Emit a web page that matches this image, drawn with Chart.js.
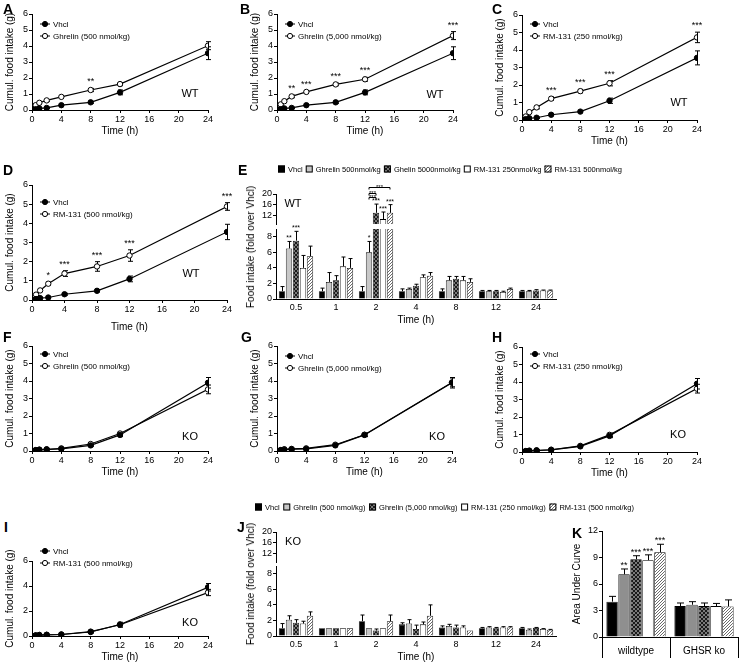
<!DOCTYPE html>
<html>
<head>
<meta charset="utf-8">
<title>Food intake after ghrelin / RM-131</title>
<script src="https://cdn.jsdelivr.net/npm/chart.js"></script>
<style>
  html, body { margin: 0; padding: 0; background: #fff; }
  #fig { position: relative; width: 747px; height: 665px; overflow: hidden; color: #000;
         font-family: 'Liberation Sans', Arial, sans-serif; }
  #fig canvas { position: absolute; }
  .letter { position: absolute; font-weight: bold; font-size: 14px; line-height: 14px; }
  .ytitle { position: absolute; font-size: 10px; line-height: 12px; white-space: nowrap;
            transform: translate(-50%, -50%) rotate(-90deg); }
</style>
</head>
<body>
<div id="fig"></div>
<script>
// ----- Cumulative food intake (g), line panels
const hours = [0, 0.5, 1, 2, 4, 8, 12, 24];
const hourTicks = [0, 4, 8, 12, 16, 20, 24];
const gramTicks = [0, 1, 2, 3, 4, 5, 6];

// wildtype
const wtVhcl       = [0, 0.05, 0.10, 0.13, 0.30, 0.48, 1.10, 3.55];
const wtVhclErr    = [0, 0.02, 0.03, 0.04, 0.05, 0.06, 0.15, 0.40];
const wtGhr500     = [0, 0.30, 0.45, 0.60, 0.82, 1.25, 1.62, 4.02];
const wtGhr500Err  = [0, 0.05, 0.05, 0.06, 0.06, 0.10, 0.10, 0.25];
const wtGhr500Sig  = ['', '', '', '', '', '**', '', ''];
const wtGhr5000    = [0, 0.35, 0.55, 0.85, 1.13, 1.60, 1.92, 4.65];
const wtGhr5000Err = [0, 0.05, 0.06, 0.08, 0.08, 0.08, 0.12, 0.25];
const wtGhr5000Sig = ['', '', '', '**', '***', '***', '***', '***'];
const wtRm250      = [0, 0.20, 0.45, 0.72, 1.22, 1.65, 2.10, 4.72];
const wtRm250Err   = [0, 0.05, 0.06, 0.08, 0.10, 0.10, 0.15, 0.30];
const wtRm250Sig   = ['', '', '', '', '***', '***', '***', '***'];
const wtRm500      = [0, 0.28, 0.50, 0.85, 1.38, 1.75, 2.32, 4.88];
const wtRm500Err   = [0, 0.05, 0.06, 0.08, 0.15, 0.25, 0.30, 0.20];
const wtRm500Sig   = ['', '', '', '*', '***', '***', '***', '***'];

// GHSR ko
const koVhcl       = [0, 0.05, 0.08, 0.10, 0.12, 0.32, 0.92, 3.90];
const koVhclErr    = [0, 0.02, 0.02, 0.03, 0.03, 0.05, 0.10, 0.30];
const koGhr500     = [0, 0.05, 0.07, 0.08, 0.15, 0.40, 1.00, 3.52];
const koGhr500Err  = [0, 0.02, 0.02, 0.03, 0.04, 0.06, 0.08, 0.25];
const koGhr5000    = [0, 0.05, 0.10, 0.12, 0.15, 0.36, 0.93, 3.92];
const koGhr5000Err = [0, 0.02, 0.03, 0.03, 0.04, 0.06, 0.08, 0.25];
const koRm250      = [0, 0.05, 0.06, 0.07, 0.13, 0.35, 0.98, 3.62];
const koRm250Err   = [0, 0.02, 0.02, 0.03, 0.04, 0.06, 0.10, 0.25];
const koRm500      = [0, 0.05, 0.08, 0.09, 0.12, 0.35, 0.90, 3.48];
const koRm500Err   = [0, 0.02, 0.02, 0.03, 0.04, 0.10, 0.20, 0.25];

// ----- Food intake, fold over Vhcl (bar panels E and J)
const foldTimes = ['0.5', '1', '2', '4', '8', '12', '24'];
const foldLowTicks = [0, 2, 4, 6, 8];
const foldHighTicks = [12, 16, 20];

const eVhcl       = [1.0, 1.0, 1.0, 1.0, 1.0, 1.0, 1.0];
const eVhclErr    = [0.6, 0.4, 0.6, 0.3, 0.3, 0.1, 0.1];
const eGhr500     = [6.5, 2.2, 6.0, 1.3, 2.4, 1.0, 1.0];
const eGhr500Err  = [0.9, 1.2, 1.4, 0.1, 0.5, 0.1, 0.1];
const eGhr500Sig  = ['**', '', '*', '', '', '', ''];
const eGhr5000    = [7.5, 2.4, 13.1, 1.7, 2.6, 1.0, 1.1];
const eGhr5000Err = [1.2, 0.6, 3.2, 0.2, 0.3, 0.1, 0.1];
const eGhr5000Sig = ['***', '', '***', '', '', '', ''];
const eRm250      = [4.0, 4.2, 10.8, 2.8, 2.4, 0.9, 1.1];
const eRm250Err   = [1.6, 1.2, 2.6, 0.3, 0.5, 0.1, 0.05];
const eRm250Sig   = ['', '', '***', '', '', '', ''];
const eRm500      = [5.5, 4.0, 13.1, 3.0, 2.2, 1.3, 1.1];
const eRm500Err   = [1.3, 1.2, 3.0, 0.4, 0.4, 0.1, 0.05];
const eRm500Sig   = ['', '', '***', '', '', '', ''];

const jVhcl       = [1.0, 1.0, 1.9, 1.5, 1.1, 1.0, 1.0];
const jVhclErr    = [0.6, 0, 0.8, 0.2, 0.2, 0.1, 0.1];
const jGhr500     = [2.1, 1.0, 1.0, 1.6, 1.3, 1.1, 0.8];
const jGhr500Err  = [0.5, 0, 0, 0.5, 0.2, 0.1, 0.1];
const jGhr5000    = [1.7, 1.0, 0.7, 0.9, 1.1, 1.0, 1.05];
const jGhr5000Err = [0.4, 0, 0.2, 0.5, 0.3, 0.1, 0.05];
const jRm250      = [1.6, 1.0, 1.0, 1.5, 1.1, 1.1, 0.9];
const jRm250Err   = [0.3, 0, 0, 0.3, 0.2, 0.1, 0.05];
const jRm500      = [2.6, 1.0, 1.9, 2.6, 0.7, 1.1, 0.8];
const jRm500Err   = [0.5, 0, 0.8, 1.4, 0, 0.1, 0.05];

// ----- Area under curve (panel K)
const aucGroups = ['wildtype', 'GHSR ko'];
const aucTicks = [0, 3, 6, 9, 12];
const aucVhcl       = [4.0, 3.5];
const aucVhclErr    = [0.6, 0.35];
const aucGhr500     = [7.1, 3.65];
const aucGhr500Err  = [0.6, 0.35];
const aucGhr500Sig  = ['**', ''];
const aucGhr5000    = [8.8, 3.5];
const aucGhr5000Err = [0.4, 0.35];
const aucGhr5000Sig = ['***', ''];
const aucRm250      = [8.7, 3.5];
const aucRm250Err   = [0.6, 0.3];
const aucRm250Sig   = ['***', ''];
const aucRm500      = [9.6, 3.45];
const aucRm500Err   = [0.9, 0.75];
const aucRm500Sig   = ['***', ''];

// -----Setup
const FONT = "'Liberation Sans', Arial, sans-serif";
Chart.defaults.font.family = FONT;
Chart.defaults.color = '#000';
Chart.defaults.animation = false;

const fig = document.getElementById('fig');

function canvasAt(left, top, w, h) {
  const c = document.createElement('canvas');
  c.width = w; c.height = h;
  c.style.left = left + 'px'; c.style.top = top + 'px';
  c.style.width = w + 'px'; c.style.height = h + 'px';
  fig.appendChild(c);
  return c;
}

function htmlText(cls, text, x, y, size) {
  const d = document.createElement('div');
  d.className = cls;
  d.textContent = text;
  d.style.left = x + 'px'; d.style.top = y + 'px';
  if (size) d.style.fontSize = size + 'px';
  fig.appendChild(d);
}

// hatch fills
const patCtx = document.createElement('canvas').getContext('2d');
function crossHatch(bg, fg, n) {
  const c = document.createElement('canvas'); c.width = c.height = n;
  const g = c.getContext('2d');
  g.fillStyle = bg; g.fillRect(0, 0, n, n);
  g.strokeStyle = fg; g.lineWidth = 1;
  g.beginPath(); g.moveTo(0, 0); g.lineTo(n, n); g.moveTo(n, 0); g.lineTo(0, n); g.stroke();
  return patCtx.createPattern(c, 'repeat');
}
function diagHatch(bg, fg, n) {
  const c = document.createElement('canvas'); c.width = c.height = n;
  const g = c.getContext('2d');
  g.fillStyle = bg; g.fillRect(0, 0, n, n);
  g.strokeStyle = fg; g.lineWidth = 1;
  g.beginPath();
  g.moveTo(0, n); g.lineTo(n, 0);
  g.moveTo(-1, 1); g.lineTo(1, -1);
  g.moveTo(n - 1, n + 1); g.lineTo(n + 1, n - 1);
  g.stroke();
  return patCtx.createPattern(c, 'repeat');
}
const darkHatch = crossHatch('#7a7a7a', '#1a1a1a', 4);
const lightHatch = diagHatch('#ffffff', '#6a6a6a', 3);

function val(d) { return (d && typeof d === 'object') ? d.y : d; }
function tickList(arr) { return s => { s.ticks = arr.map(v => ({ value: v })); }; }

// -----Plugin: error bars, stars, legends, tags, brackets
const marks = {
  id: 'marks',
  beforeDatasetsDraw(chart) {
    const ctx = chart.ctx, a = chart.chartArea;
    ctx.save();
    ctx.beginPath();
    ctx.rect(a.left - 10, a.top - 1, a.right - a.left + 20, a.bottom - a.top + 1);
    ctx.clip();
    ctx.strokeStyle = '#000'; ctx.lineWidth = 1;
    chart.data.datasets.forEach((ds, di) => {
      if (!ds.errors) return;
      const meta = chart.getDatasetMeta(di), ys = chart.scales[meta.yAxisID];
      meta.data.forEach((el, i) => {
        const e = ds.errors[i]; if (!e) return;
        const v = val(ds.data[i]);
        const x = Math.round(el.x) + 0.5;
        const yTop = ys.getPixelForValue(v + e);
        const yBot = ys.getPixelForValue(ds.errBoth ? v - e : v);
        const cap = ds.cap || 2.5;
        ctx.beginPath();
        ctx.moveTo(x, yBot); ctx.lineTo(x, yTop);
        ctx.moveTo(x - cap, yTop); ctx.lineTo(x + cap, yTop);
        if (ds.errBoth) { ctx.moveTo(x - cap, yBot); ctx.lineTo(x + cap, yBot); }
        ctx.stroke();
      });
    });
    ctx.restore();
  },
  afterDatasetsDraw(chart, args, o) {
    const ctx = chart.ctx, a = chart.chartArea;
    ctx.save();
    ctx.fillStyle = '#000'; ctx.strokeStyle = '#000'; ctx.lineWidth = 1;

    // stars
    ctx.font = (o.starSize || 9) + 'px ' + FONT;
    ctx.textAlign = 'center'; ctx.textBaseline = 'alphabetic';
    chart.data.datasets.forEach((ds, di) => {
      if (!ds.stars) return;
      const meta = chart.getDatasetMeta(di), ys = chart.scales[meta.yAxisID];
      meta.data.forEach((el, i) => {
        const s = ds.stars[i]; if (!s) return;
        const top = val(ds.data[i]) + (ds.errors ? ds.errors[i] : 0);
        if (top < ys.min || top > ys.max) return;
        ctx.fillText(s, el.x, ys.getPixelForValue(top) - (o.starGap == null ? 3 : o.starGap));
      });
    });

    // brackets between bars
    (o.brackets || []).forEach(b => {
      const x1 = chart.getDatasetMeta(b.from).data[b.cat].x;
      const x2 = chart.getDatasetMeta(b.to).data[b.cat].x;
      const y = Math.round(a.top + b.dy) + 0.5;
      ctx.beginPath();
      ctx.moveTo(x1, y + 2); ctx.lineTo(x1, y); ctx.lineTo(x2, y); ctx.lineTo(x2, y + 2);
      ctx.stroke();
      ctx.font = '6px ' + FONT;
      ctx.fillText(b.text, (x1 + x2) / 2, y + 1);
    });

    // legend for the line panels
    if (o.lineLegend) {
      const L = o.lineLegend;
      ctx.font = '8px ' + FONT;
      ctx.textAlign = 'left'; ctx.textBaseline = 'middle';
      chart.data.datasets.forEach((ds, di) => {
        const x = a.left + L.dx, y = a.top + L.dy + di * 12;
        ctx.beginPath(); ctx.moveTo(x - 5, y); ctx.lineTo(x + 5, y); ctx.stroke();
        ctx.beginPath(); ctx.arc(x, y, 2.6, 0, Math.PI * 2);
        ctx.fillStyle = ds.pointBackgroundColor; ctx.fill(); ctx.stroke();
        ctx.fillStyle = '#000';
        ctx.fillText(ds.label, x + 8, y + 0.5);
      });
    }

    // legend row for the bar panels, spread from x0 to x1
    if (o.barLegend) {
      const L = o.barLegend, box = 7, gapIn = 3;
      ctx.font = L.size + 'px ' + FONT;
      ctx.textAlign = 'left'; ctx.textBaseline = 'middle';
      const dss = chart.data.datasets;
      const widths = dss.map(ds => ctx.measureText(ds.label).width);
      const used = widths.reduce((s, w) => s + w + box + gapIn, 0);
      const gap = (L.x1 - L.x0 - used) / (dss.length - 1);
      let x = L.x0;
      dss.forEach((ds, di) => {
        const y = L.y;
        ctx.fillStyle = ds.backgroundColor;
        ctx.fillRect(x, y - 3.5, box, box);
        ctx.strokeRect(x + 0.5, y - 3, box - 1, box - 1);
        ctx.fillStyle = '#000';
        ctx.fillText(ds.label, x + box + gapIn, y + 0.5);
        x += box + gapIn + widths[di] + gap;
      });
    }

    // WT / KO tag
    if (o.tag) {
      const t = o.tag;
      ctx.font = '11px ' + FONT;
      ctx.textAlign = 'center'; ctx.textBaseline = 'middle';
      const x = t.from === 'lt' ? a.left + t.dx : a.right + t.dx;
      const y = t.from === 'lt' ? a.top + t.dy : a.bottom + t.dy;
      ctx.fillText(t.text, x, y);
    }
    ctx.restore();
  }
};

const gridTicks = { display: true, drawOnChartArea: false, drawTicks: true, tickLength: 3, color: '#000', lineWidth: 1 };
const axisLine = { display: true, color: '#000', width: 1 };
const tickFont = { size: 9 };
const titleFont = { size: 10, lineHeight: 1.2 };

// -----Line panels
function cumulChart(p) {
  const [L, T, R, B] = p.box;
  const padT = 18, padR = 12, yW = 34, xH = p.xH || 30;
  const cv = canvasAt(L - yW, T - padT, R - L + yW + padR, B - T + padT + xH);
  const pts = arr => hours.map((h, i) => ({ x: h, y: arr[i] }));
  const line = { borderColor: '#000', borderWidth: 1.2, pointRadius: 2.7, pointBorderColor: '#000',
                 pointBorderWidth: 1, errBoth: true, cap: 2.5 };
  new Chart(cv, {
    type: 'line',
    data: { datasets: [
      Object.assign({ label: 'Vhcl', data: pts(p.vhcl), errors: p.vhclErr, pointBackgroundColor: '#000' }, line),
      Object.assign({ label: p.name, data: pts(p.drug), errors: p.drugErr, stars: p.sig, pointBackgroundColor: '#fff' }, line)
    ]},
    options: {
      responsive: false,
      layout: { padding: { top: padT, right: padR, left: 0, bottom: 0 } },
      scales: {
        x: { type: 'linear', min: 0, max: 24, afterBuildTicks: tickList(hourTicks),
             afterFit: s => { s.height = xH; },
             grid: gridTicks, border: axisLine,
             ticks: { font: tickFont, padding: 1, maxRotation: 0 },
             title: { display: true, text: 'Time (h)', font: titleFont, padding: { top: 0, bottom: 3 } } },
        y: { type: 'linear', min: 0, max: 6, afterBuildTicks: tickList(gramTicks),
             afterFit: s => { s.width = yW; },
             grid: gridTicks, border: axisLine,
             ticks: { font: tickFont, padding: 1 },
             title: { display: true, text: 'Cumul. food intake (g)', font: titleFont, padding: { top: 6, bottom: 0 } } }
      },
      plugins: {
        legend: { display: false }, tooltip: { enabled: false },
        marks: { lineLegend: { dx: 13, dy: p.legY }, tag: { text: p.tag, dx: p.tagAt[0], dy: p.tagAt[1] }, starSize: 9, starGap: 4 }
      }
    },
    plugins: [marks]
  });
}

cumulChart({ box: [32, 14, 208, 110], vhcl: wtVhcl, vhclErr: wtVhclErr, drug: wtGhr500, drugErr: wtGhr500Err,
             sig: wtGhr500Sig, name: 'Ghrelin (500 nmol/kg)', tag: 'WT', tagAt: [-18, -16], legY: 10 });
cumulChart({ box: [277, 14, 453, 110], vhcl: wtVhcl, vhclErr: wtVhclErr, drug: wtGhr5000, drugErr: wtGhr5000Err,
             sig: wtGhr5000Sig, name: 'Ghrelin (5,000 nmol/kg)', tag: 'WT', tagAt: [-18, -15], legY: 10 });
cumulChart({ box: [522, 15, 697, 120], vhcl: wtVhcl, vhclErr: wtVhclErr, drug: wtRm250, drugErr: wtRm250Err,
             sig: wtRm250Sig, name: 'RM-131 (250 nmol/kg)', tag: 'WT', tagAt: [-18, -17], legY: 9 });
cumulChart({ box: [32, 185, 227, 300], vhcl: wtVhcl, vhclErr: wtVhclErr, drug: wtRm500, drugErr: wtRm500Err,
             sig: wtRm500Sig, name: 'RM-131 (500 nmol/kg)', tag: 'WT', tagAt: [-36, -26], legY: 17, xH: 36 });
cumulChart({ box: [32, 346, 208, 451], vhcl: koVhcl, vhclErr: koVhclErr, drug: koGhr500, drugErr: koGhr500Err,
             name: 'Ghrelin (500 nmol/kg)', tag: 'KO', tagAt: [-18, -14], legY: 8 });
cumulChart({ box: [277, 346, 452, 451], vhcl: koVhcl, vhclErr: koVhclErr, drug: koGhr5000, drugErr: koGhr5000Err,
             name: 'Ghrelin (5,000 nmol/kg)', tag: 'KO', tagAt: [-15, -14], legY: 10 });
cumulChart({ box: [522, 347, 697, 452], vhcl: koVhcl, vhclErr: koVhclErr, drug: koRm250, drugErr: koRm250Err,
             name: 'RM-131 (250 nmol/kg)', tag: 'KO', tagAt: [-19, -17], legY: 7 });
cumulChart({ box: [32, 561, 208, 636], vhcl: koVhcl, vhclErr: koVhclErr, drug: koRm500, drugErr: koRm500Err,
             name: 'RM-131 (500 nmol/kg)', tag: 'KO', tagAt: [-18, -13], legY: -10 });

// -----Fold-over-Vhcl bar panels (broken y axis: two charts stacked)
const barFills = ['#000', '#c8c8c8', darkHatch, '#fff', lightHatch];

function foldSets(labels, vals, errs, sigs) {
  return vals.map((v, k) => ({
    label: labels[k], data: v, errors: errs[k], stars: sigs[k],
    backgroundColor: barFills[k], borderColor: '#000', borderWidth: 0.8,
    categoryPercentage: 0.875, barPercentage: 0.9, clip: 0, cap: 2
  }));
}

function foldPanel(p) {
  const left = 240, L = 276, R = 556, yW = L - left;
  const padR = p.right - R;
  // upper segment (9 - 20)
  const [uT, uB] = p.upper;
  const topC = p.legendY - 10;
  const cu = canvasAt(left, topC, p.right - left, uB - topC + 10);
  new Chart(cu, {
    type: 'bar',
    data: { labels: foldTimes, datasets: foldSets(p.labels, p.vals, p.errs, p.sigs) },
    options: {
      responsive: false,
      layout: { padding: { top: uT - topC, right: padR, left: 0, bottom: 10 } },
      scales: {
        x: { display: false },
        y: { min: 9, max: 20, afterBuildTicks: tickList(foldHighTicks), afterFit: s => { s.width = yW; },
             grid: gridTicks, border: axisLine, ticks: { font: tickFont, padding: 1 } }
      },
      plugins: {
        legend: { display: false }, tooltip: { enabled: false },
        marks: { barLegend: { x0: p.legendX[0] - left, x1: p.legendX[1] - left, y: 10, size: 7.5 },
                 tag: { text: p.tag, dx: 17, dy: 10, from: 'lt' },
                 brackets: p.brackets, starSize: 7, starGap: 1 }
      }
    },
    plugins: [marks]
  });
  // lower segment (0 - 9)
  const [lT, lB] = p.lower;
  const cl = canvasAt(left, lT - 10, p.right - left, lB - lT + 10 + 30);
  new Chart(cl, {
    type: 'bar',
    data: { labels: foldTimes, datasets: foldSets(p.labels, p.vals, p.errs, p.sigs) },
    options: {
      responsive: false,
      layout: { padding: { top: 10, right: padR, left: 0, bottom: 0 } },
      scales: {
        x: { afterFit: s => { s.height = 30; }, grid: { display: false, drawTicks: false }, border: axisLine,
             ticks: { font: tickFont, padding: 3, maxRotation: 0 },
             title: { display: true, text: 'Time (h)', font: titleFont, padding: { top: 0, bottom: 3 } } },
        y: { min: 0, max: 9, afterBuildTicks: tickList(foldLowTicks), afterFit: s => { s.width = yW; },
             grid: gridTicks, border: axisLine, ticks: { font: tickFont, padding: 1 } }
      },
      plugins: { legend: { display: false }, tooltip: { enabled: false }, marks: { starSize: 7, starGap: 1 } }
    },
    plugins: [marks]
  });
  htmlText('ytitle', 'Food intake (fold over Vhcl)', 251, (uT + lB) / 2);
}

foldPanel({
  legendY: 169, upper: [194, 224], lower: [229, 299], right: 640,
  legendX: [278, 622], tag: 'WT',
  labels: ['Vhcl', 'Ghrelin 500nmol/kg', 'Ghelin 5000nmol/kg', 'RM-131 250nmol/kg', 'RM-131 500nmol/kg'],
  vals: [eVhcl, eGhr500, eGhr5000, eRm250, eRm500],
  errs: [eVhclErr, eGhr500Err, eGhr5000Err, eRm250Err, eRm500Err],
  sigs: [null, eGhr500Sig, eGhr5000Sig, eRm250Sig, eRm500Sig],
  brackets: [{ cat: 2, from: 1, to: 4, dy: -7, text: '***' },
             { cat: 2, from: 1, to: 2, dy: -1, text: '***' },
             { cat: 2, from: 1, to: 2, dy: 3, text: '***' }]
});

foldPanel({
  legendY: 507, upper: [532, 562], lower: [566, 636], right: 650,
  legendX: [255, 634], tag: 'KO',
  labels: ['Vhcl', 'Ghrelin (500 nmol/kg)', 'Ghrelin (5,000 nmol/kg)', 'RM-131 (250 nmol/kg)', 'RM-131 (500 nmol/kg)'],
  vals: [jVhcl, jGhr500, jGhr5000, jRm250, jRm500],
  errs: [jVhclErr, jGhr500Err, jGhr5000Err, jRm250Err, jRm500Err],
  sigs: [null, null, null, null, null],
  brackets: []
});

// -----Area under curve (K)
(function () {
  const L = 602, T = 531, R = 738, B = 637;
  const left = 556, padT = 10, xH = 28;
  const cv = canvasAt(left, T - padT, 747 - left, B - T + padT + xH);
  const fills = ['#000', '#8f8f8f', darkHatch, '#fff', lightHatch];
  const names = ['Vhcl', 'Ghrelin (500 nmol/kg)', 'Ghrelin (5,000 nmol/kg)', 'RM-131 (250 nmol/kg)', 'RM-131 (500 nmol/kg)'];
  const vals = [aucVhcl, aucGhr500, aucGhr5000, aucRm250, aucRm500];
  const errs = [aucVhclErr, aucGhr500Err, aucGhr5000Err, aucRm250Err, aucRm500Err];
  const sigs = [null, aucGhr500Sig, aucGhr5000Sig, aucRm250Sig, aucRm500Sig];
  new Chart(cv, {
    type: 'bar',
    data: { labels: aucGroups, datasets: vals.map((v, k) => ({
      label: names[k], data: v, errors: errs[k], stars: sigs[k], backgroundColor: fills[k],
      borderColor: '#000', borderWidth: 0.8, categoryPercentage: 0.88, barPercentage: 0.95, cap: 3.5
    })) },
    options: {
      responsive: false,
      layout: { padding: { top: padT, right: 747 - R, left: 0, bottom: 0 } },
      scales: {
        x: { afterFit: s => { s.height = xH; },
             grid: { display: true, drawOnChartArea: false, offset: true, tickLength: 21, color: '#000', lineWidth: 1 },
             border: axisLine, ticks: { font: { size: 10 }, padding: -13, maxRotation: 0 } },
        y: { min: 0, max: 12, afterBuildTicks: tickList(aucTicks), afterFit: s => { s.width = L - left; },
             grid: gridTicks, border: axisLine, ticks: { font: tickFont, padding: 1 },
             title: { display: true, text: 'Area Under Curve', font: titleFont, padding: { top: 15, bottom: 0 } } }
      },
      plugins: { legend: { display: false }, tooltip: { enabled: false }, marks: { starSize: 9, starGap: 1 } }
    },
    plugins: [marks]
  });
})();

// -----Panel letters
[['A', 3, 2], ['B', 240, 2], ['C', 492, 2], ['D', 3, 163], ['E', 238, 163], ['F', 3, 330],
 ['G', 241, 330], ['H', 492, 330], ['I', 4, 520], ['J', 237, 520], ['K', 572, 526]]
  .forEach(l => htmlText('letter', l[0], l[1], l[2]));
</script>
</body>
</html>
